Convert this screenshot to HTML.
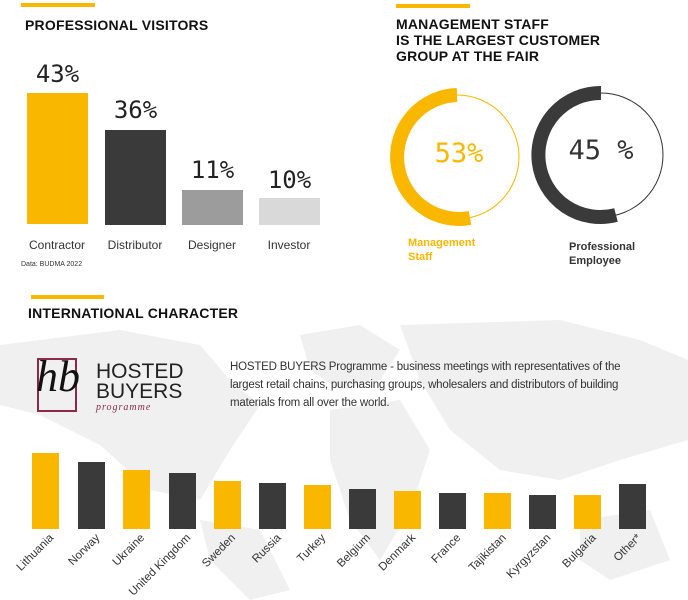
<!DOCTYPE html>
<html><head><meta charset="utf-8"><style>
body{margin:0;width:688px;height:600px;background:#fff;position:relative;overflow:hidden;font-family:"Liberation Sans",sans-serif;color:#222}
.a{position:absolute}
.h{font-weight:bold;font-size:14px;color:#111;letter-spacing:0.2px}
.line{height:4px;background:#f9b700}
.pct{font-family:"DejaVu Sans Mono","Liberation Mono",monospace;font-size:24px;color:#222;text-align:center;width:61px}
.lab{font-size:12px;color:#333;text-align:center;width:80px}
.b{position:absolute;width:27px;bottom:71px}
.y{background:#f9b700}.d{background:#3a3a3a}
.c{position:absolute;font-size:11.5px;color:#333;transform-origin:right top;transform:rotate(-45deg);white-space:nowrap;text-align:right}
</style></head><body>
<svg class="a" style="left:0;top:320px" width="688" height="280">
<g fill="#f0f0f0">
<path d="M0 25 L120 10 L200 25 L230 60 L260 85 L230 130 L200 180 L150 170 L100 125 L40 95 L0 85Z"/>
<path d="M200 200 L260 210 L290 270 L250 280 L210 240Z"/>
<path d="M300 15 L360 5 L400 30 L380 60 L340 70 L310 50Z"/>
<path d="M330 90 L400 80 L430 130 L410 190 L380 240 L350 200 L330 140Z"/>
<path d="M400 5 L560 0 L640 20 L688 40 L688 120 L620 140 L560 160 L500 150 L450 110 L420 60Z"/>
<path d="M580 200 L650 190 L670 240 L610 260 L580 240Z"/>
</g></svg>
<div class="a line" style="left:21px;top:3px;width:74px"></div>
<div class="a h" style="left:25px;top:17px">PROFESSIONAL VISITORS</div>
<div class="a pct" style="left:27px;top:60px">43%</div>
<div class="a pct" style="left:105px;top:96px">36%</div>
<div class="a pct" style="left:182px;top:156px">11%</div>
<div class="a pct" style="left:259px;top:166px">10%</div>
<div class="a" style="left:27px;top:93px;width:61px;height:131px;background:#f9b700"></div>
<div class="a" style="left:105px;top:130px;width:61px;height:95px;background:#3a3a3a"></div>
<div class="a" style="left:182px;top:190px;width:61px;height:35px;background:#9c9c9c"></div>
<div class="a" style="left:259px;top:198px;width:61px;height:27px;background:#d9d9d9"></div>
<div class="a lab" style="left:17px;top:238px">Contractor</div>
<div class="a lab" style="left:95px;top:238px">Distributor</div>
<div class="a lab" style="left:172px;top:238px">Designer</div>
<div class="a lab" style="left:249px;top:238px">Investor</div>
<div class="a" style="left:21px;top:261px;font-size:7px;color:#333">Data: BUDMA 2022</div>

<div class="a line" style="left:396px;top:4px;width:74px"></div>
<div class="a h" style="left:396px;top:16px;line-height:16px">MANAGEMENT STAFF<br>IS THE LARGEST CUSTOMER<br>GROUP AT THE FAIR</div>
<svg class="a" style="left:380px;top:80px" width="308" height="160">
<circle cx="77" cy="77" r="62" fill="none" stroke="#f9b700" stroke-width="1"/>
<path d="M77 15 A62 62 0 1 0 90 138" fill="none" stroke="#f9b700" stroke-width="14"/>
<circle cx="221" cy="75" r="62" fill="none" stroke="#333" stroke-width="1"/>
<path d="M221 13 A62 62 0 1 0 236 135" fill="none" stroke="#3a3a3a" stroke-width="14"/>
<text x="79" y="82" text-anchor="middle" font-family="DejaVu Sans Mono,monospace" font-size="27" fill="#f9b700">53%</text>
<text x="221" y="79" text-anchor="middle" font-family="DejaVu Sans Mono,monospace" font-size="27" fill="#333">45 %</text>
</svg>
<div class="a" style="left:408px;top:236px;font-size:11px;line-height:14px;color:#f9b700;font-weight:bold">Management<br>Staff</div>
<div class="a" style="left:569px;top:240px;font-size:11px;line-height:14px;color:#333;font-weight:bold">Professional<br>Employee</div>

<div class="a line" style="left:31px;top:295px;width:73px"></div>
<div class="a h" style="left:28px;top:305px">INTERNATIONAL CHARACTER</div>
<div class="a" style="left:37px;top:358px;width:36px;height:50px;border:2px solid #8a2a4a"></div>
<div class="a" style="left:36px;top:352px;font-family:'Liberation Serif',serif;font-style:italic;font-size:44px;color:#111;line-height:50px">hb</div>
<div class="a" style="left:96px;top:362px;font-size:21px;line-height:20px;color:#222">HOSTED<br>BUYERS</div>
<div class="a" style="left:96px;top:402px;font-family:'Liberation Serif',serif;font-style:italic;font-size:10px;color:#8a2a4a;letter-spacing:1px">programme</div>
<div class="a" style="left:230px;top:358px;font-size:11.5px;line-height:18px;color:#333;width:450px;letter-spacing:-0.2px">HOSTED BUYERS Programme - business meetings with representatives of the<br>largest retail chains, purchasing groups, wholesalers and distributors of building<br>materials from all over the world.</div>

<div class="b y" style="left:32px;height:76px"></div>
<div class="b d" style="left:78px;height:67px"></div>
<div class="b y" style="left:123px;height:59px"></div>
<div class="b d" style="left:169px;height:56px"></div>
<div class="b y" style="left:214px;height:48px"></div>
<div class="b d" style="left:259px;height:46px"></div>
<div class="b y" style="left:304px;height:44px"></div>
<div class="b d" style="left:349px;height:40px"></div>
<div class="b y" style="left:394px;height:38px"></div>
<div class="b d" style="left:439px;height:36px"></div>
<div class="b y" style="left:484px;height:36px"></div>
<div class="b d" style="left:529px;height:34px"></div>
<div class="b y" style="left:574px;height:34px"></div>
<div class="b d" style="left:619px;height:45px"></div>

<div class="c" style="right:640px;top:532px">Lithuania</div>
<div class="c" style="right:594px;top:532px">Norway</div>
<div class="c" style="right:549px;top:532px">Ukraine</div>
<div class="c" style="right:503px;top:532px">United Kingdom</div>
<div class="c" style="right:458px;top:532px">Sweden</div>
<div class="c" style="right:413px;top:532px">Russia</div>
<div class="c" style="right:368px;top:532px">Turkey</div>
<div class="c" style="right:323px;top:532px">Belgium</div>
<div class="c" style="right:278px;top:532px">Denmark</div>
<div class="c" style="right:233px;top:532px">France</div>
<div class="c" style="right:188px;top:532px">Tajikistan</div>
<div class="c" style="right:143px;top:532px">Kyrgyzstan</div>
<div class="c" style="right:98px;top:532px">Bulgaria</div>
<div class="c" style="right:53px;top:532px">Other*</div>
</body></html>
